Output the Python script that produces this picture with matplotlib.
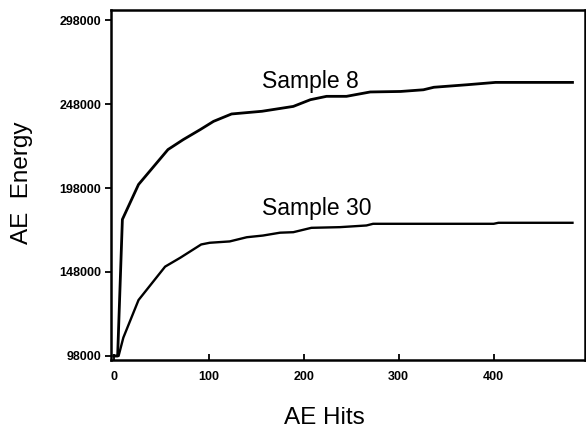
import numpy as np
import matplotlib.pyplot as plt

plt.rcParams['font.family'] = ['Liberation Sans', 'DejaVu Sans']

# Cumulative AE energy vs AE hits
hits_s8 = [0, 4, 9, 26, 57, 73, 91, 105, 124, 156, 189, 207, 224, 245, 270, 302, 326, 337, 372, 402, 483]
energy_s8 = [98000, 98000, 179300, 200100, 220900, 226800, 232800, 237700, 242100, 243700,
             246600, 250600, 252600, 252600, 255200, 255500, 256500, 258000, 259500, 260900, 260900]

hits_s30 = [0, 5, 10, 26, 54, 70, 92, 101, 122, 140, 157, 175, 189, 208, 238, 266, 273, 400, 405, 483]
energy_s30 = [98000, 98000, 108900, 131300, 151200, 156500, 164400, 165400, 166200, 168700,
              169700, 171400, 171700, 174300, 174700, 175700, 176700, 176700, 177300, 177300]

y_ticks = [98000, 148000, 198000, 248000, 298000]
x_ticks = [0, 100, 200, 300, 400]

fig = plt.figure(figsize=(5.86, 4.28), dpi=100)
ax = fig.add_axes([0.1894, 0.1589, 0.8086, 0.8177])

ax.plot(hits_s8, energy_s8, color='black', lw=2.0)
ax.plot(hits_s30, energy_s30, color='black', lw=1.7)

ax.text(156, 257700, "Sample 8", fontsize=16.5, va='baseline')
ax.text(156, 181650, "Sample 30", fontsize=16.5, va='baseline')

ax.set_xlim(-3, 496)
ax.set_ylim(95600, 304000)
ax.set_xticks(x_ticks)
ax.set_yticks(y_ticks)
ax.set_xticklabels([str(v) for v in x_ticks], fontweight='bold', fontsize=9)
ax.set_yticklabels([str(v) for v in y_ticks], fontweight='bold', fontsize=9)
ax.tick_params(axis='x', direction='in', length=4, width=1.3, pad=8)
ax.tick_params(axis='y', direction='out', length=4, width=1.3, pad=3)
for s in ax.spines.values():
    s.set_linewidth(1.8)

ax.set_xlabel("AE Hits", fontsize=17.5)
ax.xaxis.set_label_coords(0.45, -0.135)
ax.set_ylabel("AE  Energy", fontsize=17.5)
ax.yaxis.set_label_coords(-0.165, 0.506)

fig.savefig("out.png", dpi=100)
